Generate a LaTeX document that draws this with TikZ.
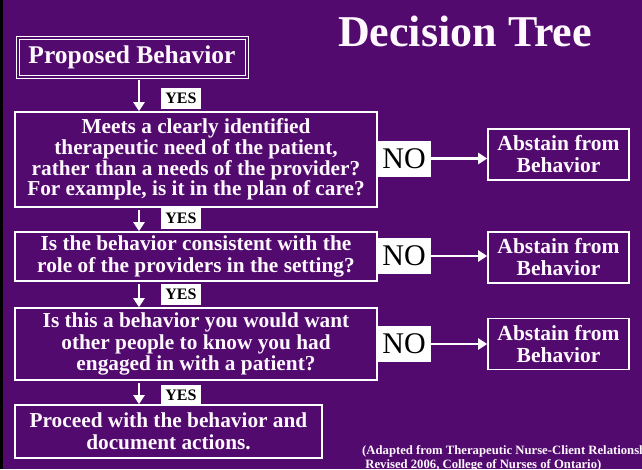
\documentclass[tikz,border=0pt]{standalone}
\usepackage{fontspec}
\setmainfont{Liberation Serif}
\usetikzlibrary{arrows.meta}
\definecolor{bgpurple}{HTML}{520A6E}
\definecolor{txtwhite}{HTML}{FFF8FF}
\begin{document}
\begin{tikzpicture}[x=1pt,y=-1pt,
  qbox/.style={draw=white,line width=1.6pt,text=txtwhite,align=center,inner sep=0pt,
    font=\bfseries\fontsize{21.3}{21.8}\selectfont},
  yesbox/.style={fill=white,text=black,inner sep=0pt,minimum width=40pt,minimum height=21pt,
    font=\bfseries\fontsize{16}{16}\selectfont},
  nobox/.style={fill=white,text=black,inner sep=0pt,minimum width=54pt,minimum height=36pt,
    font=\fontsize{30}{30}\selectfont},
  abox/.style={draw=white,line width=1.6pt,text=txtwhite,align=center,inner sep=0pt,
    minimum width=141pt,minimum height=51pt,font=\bfseries\fontsize{21.5}{22}\selectfont},
  arr/.style={draw=white,line width=2.8pt,-{Triangle[width=11pt,length=9pt]}}]
\useasboundingbox (0,0) rectangle (642,469);
\clip (0,0) rectangle (642,469);
\fill[bgpurple] (0,0) rectangle (642,469);
\fill[black] (0,0) rectangle (3,469);
% title
\node[text=txtwhite,font=\bfseries\fontsize{44}{44}\selectfont] (title) at (465,31) {Decision Tree};
% proposed behavior
\node[draw=white,line width=1pt,double=bgpurple,double distance=2pt,text=txtwhite,inner sep=0pt,
  minimum width=229pt,minimum height=39pt,font=\bfseries\fontsize{25.5}{25.5}\selectfont] (prop) at (132,57) {Proposed Behavior};
% question boxes
\node[qbox,minimum width=362pt,minimum height=95pt,font=\bfseries\fontsize{21.3}{20.7}\selectfont] (q1) at (196,159.5)
  {Meets a clearly identified\\therapeutic need of the patient,\\rather than a needs of the provider?\\For example, is it in the plan of care?};
\node[qbox,minimum width=362pt,minimum height=49pt] (q2) at (196,256.5)
  {Is the behavior consistent with the\\role of the providers in the setting?};
\node[qbox,minimum width=362pt,minimum height=72pt] (q3) at (196,344)
  {Is this a behavior you would want\\other people to know you had\\engaged in with a patient?};
\node[qbox,minimum width=307pt,minimum height=53pt] (q4) at (168.5,431.5)
  {Proceed with the behavior and\\document actions.};
% coordinate for vertical arrows
\coordinate (ax) at (139,0);
% YES labels
\node[yesbox] (y1) at (181,98.5) {YES};
\node[yesbox] (y2) at (181,218) {YES};
\node[yesbox] (y3) at (181,294.5) {YES};
\node[yesbox] (y4) at (181,395) {YES};
% vertical arrows
\draw[arr] (prop.south -| ax) ++(0,3) -- (q1.north -| ax);
\draw[arr] (q1.south -| ax) ++(0,2) -- (q2.north -| ax);
\draw[arr] (q2.south -| ax) ++(0,2) -- (q3.north -| ax);
\draw[arr] (q3.south -| ax) ++(0,2) -- (q4.north -| ax);
% NO labels
\node[nobox] (n1) at (404,158.5) {NO};
\node[nobox] (n2) at (404,256) {NO};
\node[nobox] (n3) at (404,344) {NO};
% abstain boxes
\node[abox] (a1) at (558.5,154.5) {Abstain from\\Behavior};
\node[abox] (a2) at (558.5,257.5) {Abstain from\\Behavior};
\node[abox] (a3) at (558.5,344) {Abstain from\\Behavior};
% horizontal arrows
\draw[arr] (n1.east) -- (a1.west |- n1.east);
\draw[arr] (n2.east) -- (a2.west |- n2.east);
\draw[arr] (n3.east) -- (a3.west |- n3.east);
% caption
\node[anchor=north west,text=txtwhite,align=left,inner sep=0pt,
  font=\bfseries\fontsize{12.7}{14}\selectfont] (cap) at (362,445)
  {(Adapted from Therapeutic Nurse-Client Relationship,\\\ Revised 2006, College of Nurses of Ontario)};
\end{tikzpicture}
\end{document}
